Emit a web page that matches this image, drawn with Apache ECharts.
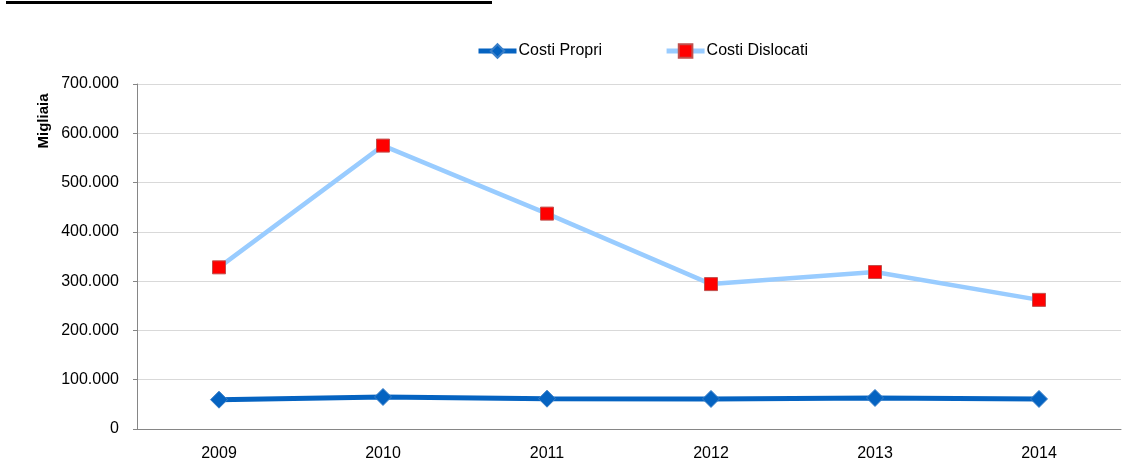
<!DOCTYPE html>
<html>
<head>
<meta charset="utf-8">
<script src="https://cdn.jsdelivr.net/npm/echarts@6/dist/echarts.min.js"></script>
<style>
  html, body { margin: 0; padding: 0; background: #fff; }
  #chart { width: 1145px; height: 470px; }
</style>
</head>
<body>
<div id="chart"></div>
<script>
  // dati (migliaia)
  let anni = ['2009', '2010', '2011', '2012', '2013', '2014']
  let costiPropri = [59500, 65000, 61500, 61000, 63000, 61000]
  let costiDislocati = [328000, 575000, 437000, 294000, 318500, 262000]

  let fmt = v => String(v).replace(/\B(?=(\d{3})+(?!\d))/g, '.')

  let chart = echarts.init(document.getElementById('chart'))
  let font = 'Liberation Sans, Noto Sans, sans-serif'

  let option = {
    animation: false,
    textStyle: { fontFamily: font },
    graphic: [
      { type: 'rect', shape: { x: 6, y: 1, width: 486, height: 3 }, style: { fill: '#000' } },
      {
        type: 'text', x: 44, y: 121, rotation: Math.PI / 2,
        style: { text: 'Migliaia', font: 'bold 15px ' + font, fill: '#000', align: 'center', verticalAlign: 'middle' }
      }
    ],
    legend: {
      top: 38,
      left: 471,
      itemWidth: 38,
      itemHeight: 17,
      itemGap: 62,
      lineStyle: { width: 5 },
      textStyle: { fontSize: 16, color: '#000', fontFamily: font, padding: [0, 0, 0, -3] },
      data: ['Costi Propri', 'Costi Dislocati']
    },
    grid: { left: 137, right: 24, top: 84, bottom: 41, containLabel: false },
    xAxis: {
      type: 'category',
      data: anni,
      boundaryGap: true,
      axisLine: { lineStyle: { color: '#868686', width: 1 } },
      axisTick: { length: 5, lineStyle: { color: '#868686' } },
      axisLabel: { fontSize: 16, color: '#000', margin: 17 },
      splitLine: { show: false }
    },
    yAxis: {
      type: 'value',
      min: 0,
      max: 700000,
      interval: 100000,
      axisLine: { show: true, lineStyle: { color: '#868686', width: 1 } },
      axisTick: { show: true, length: 4, lineStyle: { color: '#868686' } },
      axisLabel: { fontSize: 16, color: '#000', margin: 18, formatter: fmt },
      splitLine: { lineStyle: { color: '#d9d9d9', width: 1 } }
    },
    series: [
      {
        name: 'Costi Propri',
        type: 'line',
        data: costiPropri,
        symbol: 'diamond',
        symbolSize: 17,
        lineStyle: { color: '#0563c1', width: 5 },
        itemStyle: { color: '#0563c1', borderColor: '#3a7fc8', borderWidth: 1 },
        z: 3
      },
      {
        name: 'Costi Dislocati',
        type: 'line',
        data: costiDislocati,
        symbol: 'rect',
        symbolSize: 13,
        lineStyle: { color: '#99ccff', width: 4.5 },
        itemStyle: { color: '#ff0000', borderColor: '#c0504d', borderWidth: 1 },
        z: 2
      }
    ]
  }
  chart.setOption(option)
</script>
</body>
</html>
